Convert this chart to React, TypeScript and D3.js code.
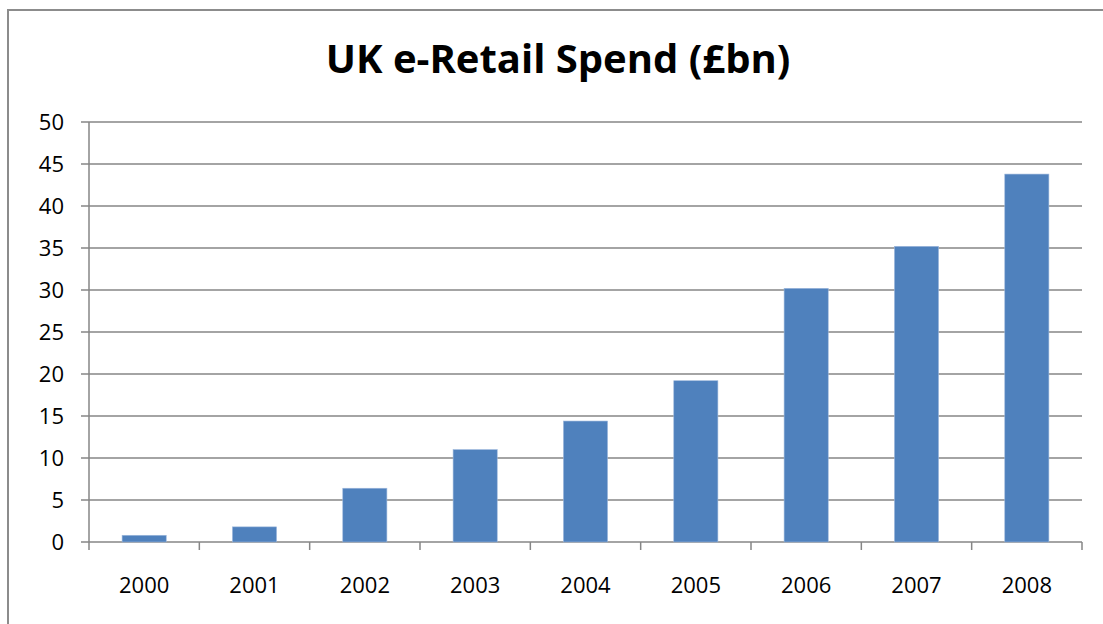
import React from "react";
import * as d3 from "d3";

const years = ["2000", "2001", "2002", "2003", "2004", "2005", "2006", "2007", "2008"];
const spend = [0.8, 1.8, 6.4, 11, 14.4, 19.2, 30.2, 35.2, 43.8];
const yTicks = [0, 5, 10, 15, 20, 25, 30, 35, 40, 45, 50];
const title = "UK e-Retail Spend (£bn)";

const W = 1103;
const H = 624;
const left = 89;
const right = 1082;
const top = 122;
const bottom = 542;
const font = "'Open Sans', 'Liberation Sans', sans-serif";
const grid = "#868686";

export default function App() {
  const x = d3.scaleBand<string>().domain(years).range([left, right]).paddingInner(0.6).paddingOuter(0.3);
  const y = d3.scaleLinear().domain([0, 50]).range([bottom, top]);
  const step = x.step();
  const edges = d3.range(years.length + 1).map((i) => left + i * step);

  return (
    <svg width={W} height={H} style={{ position: "absolute", left: 0, top: 0, background: "#fff" }}>
      <rect x={8} y={10} width={W + 10} height={H + 10} fill="#fff" stroke="#8c8c8c" strokeWidth={2} />
      <text x={558} y={73} textAnchor="middle" fontFamily={font} fontWeight="bold" fontSize={40} fill="#000">
        {title}
      </text>
      {yTicks.map((t) => (
        <g key={t}>
          <line x1={81} x2={right} y1={y(t)} y2={y(t)} stroke={grid} strokeWidth={1.5} />
          <text x={64} y={y(t)} dy="0.36em" textAnchor="end" fontFamily={font} fontSize={22} fill="#000">
            {t}
          </text>
        </g>
      ))}
      <line x1={left} x2={left} y1={top} y2={bottom + 8} stroke={grid} strokeWidth={1.5} />
      {edges.slice(1).map((e, i) => (
        <line key={i} x1={e} x2={e} y1={bottom} y2={bottom + 8} stroke={grid} strokeWidth={1.5} />
      ))}
      {years.map((yr, i) => (
        <g key={yr}>
          <rect
            x={x(yr)!}
            y={y(spend[i])}
            width={x.bandwidth()}
            height={bottom - y(spend[i])}
            fill="#4F81BD"
            stroke="#9db8dc"
            strokeWidth={0.6}
          />
          <text x={x(yr)! + x.bandwidth() / 2} y={593} textAnchor="middle" fontFamily={font} fontSize={22} fill="#000">
            {yr}
          </text>
        </g>
      ))}
    </svg>
  );
}
